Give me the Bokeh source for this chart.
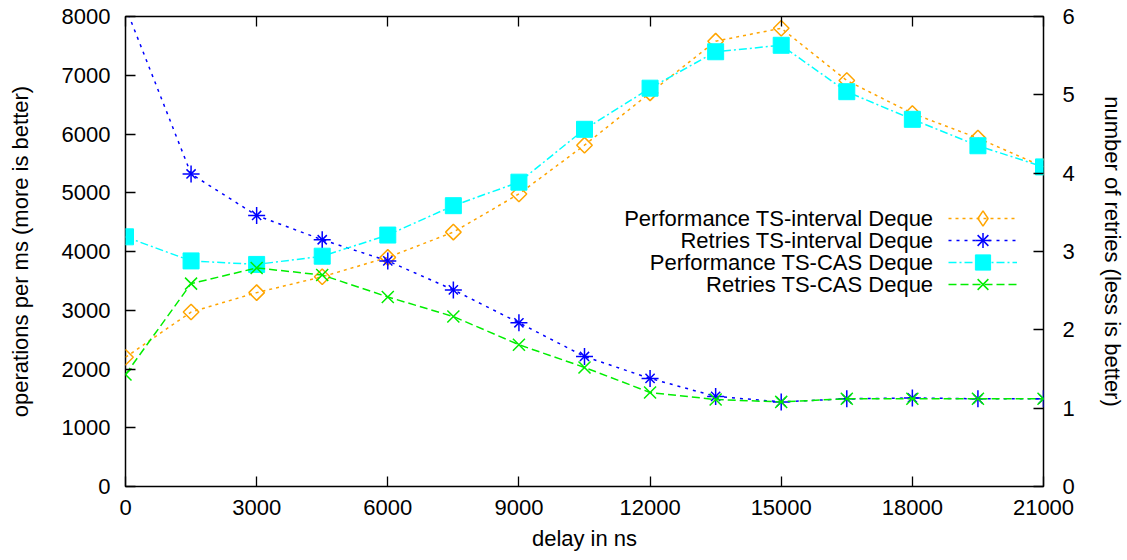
from bokeh.plotting import figure
from bokeh.models import Range1d, LinearAxis, FixedTicker, Legend, LegendItem, Label
from bokeh.embed import file_html
from bokeh.resources import INLINE
import numpy as np

# ---------------- data ----------------
delay = [0, 1500, 3000, 4500, 6000, 7500, 9000, 10500, 12000, 13500,
         15000, 16500, 18000, 19500, 21000]
perf_ts_interval = [2200, 2970, 3300, 3570, 3900, 4330, 4980, 5810, 6700, 7580,
                    7800, 6910, 6350, 5930, 5440]
retries_ts_interval = [6.12, 3.99, 3.46, 3.15, 2.88, 2.51, 2.09, 1.66, 1.38, 1.15,
                       1.08, 1.12, 1.13, 1.12, 1.12]
perf_ts_cas = [4250, 3840, 3780, 3920, 4280, 4780, 5180, 6080, 6780, 7400,
               7510, 6720, 6250, 5800, 5440]
retries_ts_cas = [1.43, 2.59, 2.79, 2.70, 2.42, 2.17, 1.81, 1.52, 1.20, 1.11,
                  1.08, 1.12, 1.12, 1.12, 1.12]

x_ticks = [0, 3000, 6000, 9000, 12000, 15000, 18000, 21000]
y_ticks = [0, 1000, 2000, 3000, 4000, 5000, 6000, 7000, 8000]
y2_ticks = [0, 1, 2, 3, 4, 5, 6]

labels = ["Performance TS-interval Deque", "Retries TS-interval Deque",
          "Performance TS-CAS Deque", "Retries TS-CAS Deque"]

x_title = "delay in ns"
y_title = "operations per ms (more is better)"
y2_title = "number of retries (less is better)"

FONT = "Liberation Sans"
FS = "22px"

# ---------------- figure ----------------
W, H = 1127, 560
p = figure(width=W, height=H, output_backend="svg", toolbar_location=None,
           x_range=Range1d(0, 21000), y_range=Range1d(0, 8000),
           min_border_left=125, min_border_right=W - 1046, min_border_top=16,
           min_border_bottom=H - 486)
p.extra_y_ranges = {"retries": Range1d(0, 6)}
p.xgrid.visible = False
p.ygrid.visible = False
p.outline_line_color = "black"
p.outline_line_width = 1.5
p.background_fill_color = "white"
p.border_fill_color = "white"

xaxis = p.below[0]
yaxis = p.left[0]
right_axis = LinearAxis(y_range_name="retries")
top_axis = LinearAxis()
p.add_layout(right_axis, "right")
p.add_layout(top_axis, "above")


def style(ax, ticks):
    ax.ticker = FixedTicker(ticks=ticks)
    ax.axis_line_color = None
    ax.major_tick_in = 10
    ax.major_tick_out = 0
    ax.major_tick_line_width = 1.3
    ax.major_tick_line_color = "black"
    ax.minor_tick_line_color = None
    ax.major_label_text_font = FONT
    ax.major_label_text_font_size = FS
    ax.major_label_text_color = "black"
    ax.axis_label_text_font = FONT
    ax.axis_label_text_font_size = FS
    ax.axis_label_text_font_style = "normal"
    ax.axis_label_text_color = "black"


style(xaxis, x_ticks)
style(yaxis, y_ticks)
style(right_axis, y2_ticks)
style(top_axis, x_ticks)
# top border only mirrors the x ticks (no labels)
top_axis.major_label_overrides = {t: "" for t in x_ticks}
top_axis.major_label_standoff = 0

xaxis.axis_label = x_title
xaxis.major_label_standoff = 13
xaxis.axis_label_standoff = 8
yaxis.axis_label = y_title
yaxis.major_label_standoff = 15
yaxis.axis_label_standoff = 26
right_axis.axis_label = y2_title
right_axis.major_label_standoff = 19
right_axis.axis_label_standoff = 22

LW = 1.5
ORANGE, BLUE, CYAN, GREEN = "#ffa500", "#0000ff", "#00ffff", "#00ee00"

# orange: performance TS-interval
l1 = p.line(delay, perf_ts_interval, line_color=ORANGE, line_width=LW, line_dash="3 4")
m1 = p.scatter(delay, perf_ts_interval, marker="square", angle=np.pi / 4, size=11,
               fill_color=None, line_color=ORANGE, line_width=1.5)
# diamond used only for the legend sample (size 0 in the plot area)
m1_leg = p.scatter(delay, perf_ts_interval, marker="diamond", size=0, fill_color=None,
                   line_color=ORANGE, line_width=1.5)

# blue: retries TS-interval
l2 = p.line(delay, retries_ts_interval, y_range_name="retries", line_color=BLUE,
            line_width=LW, line_dash="3 5")
m2a = p.scatter(delay, retries_ts_interval, y_range_name="retries", marker="cross",
                size=17, line_color=BLUE, line_width=1.5)
m2b = p.scatter(delay, retries_ts_interval, y_range_name="retries", marker="x",
                size=13, line_color=BLUE, line_width=1.5)

# cyan: performance TS-CAS
l3 = p.line(delay, perf_ts_cas, line_color=CYAN, line_width=LW, line_dash="8 3 2 3")
m3 = p.scatter(delay, perf_ts_cas, marker="square", size=16,
               fill_color=CYAN, line_color=CYAN)

# green: retries TS-CAS
l4 = p.line(delay, retries_ts_cas, y_range_name="retries", line_color=GREEN,
            line_width=LW, line_dash="8 4")
m4 = p.scatter(delay, retries_ts_cas, y_range_name="retries", marker="x", size=17,
               line_color=GREEN, line_width=1.5)

# ---------------- legend (samples on the right, text right-aligned) ----------------
ROW = 22          # distance between legend rows (px)
GH = 38           # glyph box height, sets the sample marker size
LEG_X = 823       # left edge of the samples, from the frame's left edge
FIRST_ROW_Y = 268 # centre of the first row, from the frame's bottom edge
groups = ([l1, m1_leg], [l2, m2a, m2b], [l3, m3], [l4, m4])
for i, (txt, rends) in enumerate(zip(labels, groups)):
    cy = FIRST_ROW_Y - ROW * i
    leg = Legend(items=[LegendItem(label=" ", renderers=rends)],
                 location=(LEG_X, cy - GH / 2), glyph_width=69, glyph_height=GH,
                 label_height=GH, label_width=0, label_standoff=0, padding=0,
                 margin=0, spacing=0, border_line_color=None,
                 background_fill_alpha=0, label_text_font_size="1px")
    p.add_layout(leg)
    p.add_layout(Label(x=LEG_X - 15, y=cy, x_units="screen", y_units="screen",
                       text=txt, text_align="right", text_baseline="middle",
                       text_font=FONT, text_font_size=FS, text_color="black"))

open("out.html", "w").write(file_html(p, INLINE))
